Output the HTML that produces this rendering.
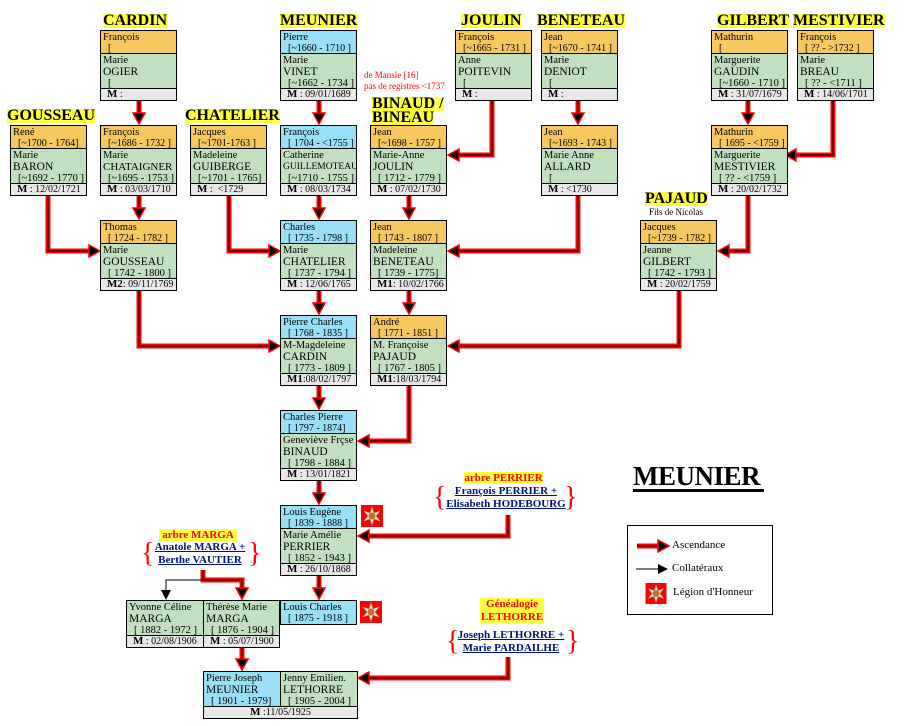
<!DOCTYPE html>
<html><head><meta charset="utf-8"><style>
body{margin:0;background:#fff;width:911px;height:726px;overflow:hidden;position:relative;font-family:"Liberation Serif",serif;color:#000}
.b{position:absolute;width:77px;box-sizing:border-box;border:1px solid #000;font-size:10.5px;line-height:11px}
.h{height:23px;background:#F8C860;border-bottom:1px solid #000;padding:1px 0 0 2px;box-sizing:border-box;white-space:nowrap;overflow:hidden}
.bl{background:#98E0F8}
.g{height:35px;background:#C0E0C0;border-bottom:1px solid #000;padding:1px 0 0 2px;box-sizing:border-box;white-space:nowrap;overflow:hidden}
.g span{font-size:11.5px;line-height:12px;display:block}
.g span.i{font-size:10.5px;line-height:11px}
.m{height:11px;background:#E8E8E8;font-size:10px;line-height:11px;padding-left:6px;white-space:nowrap;overflow:hidden}
.m b{font-size:11px}
.i{padding-left:5px;font-size:10px}
.t{position:absolute;font-weight:bold;font-size:16px;line-height:14px;background:#FFFF40;white-space:nowrap}
.r{position:absolute;color:#f00;font-size:9px;line-height:11px}
.lk{position:absolute;text-align:center;color:#001080;font-weight:bold;font-size:11px;line-height:13px;text-decoration:underline;white-space:nowrap}
.yl{position:absolute;background:#FFFF40;color:#f00;font-weight:bold;font-size:11px;line-height:12px;text-align:center}
.br{position:absolute;color:#f00;font-size:28px;line-height:28px}
</style></head><body>
<svg width="911" height="726" style="position:absolute;left:0;top:0">
<defs><symbol id="leg" viewBox="0 0 22 22"><rect width="22" height="22" fill="#f00"/><polygon points="11,2 13,8 19,6 15,11 19,16 13,14 11,20 9,14 3,16 7,11 3,6 9,8" fill="#e8e8d8" stroke="#8a8" stroke-width="0.6"/><circle cx="11" cy="11" r="3.5" fill="#c87020"/></symbol></defs>
<g fill="none" stroke="#f00" stroke-width="5" stroke-linejoin="miter">
<path d="M139 101V117M319 101V117M492 101V155H456M578 101V117M748 101V117M833 101V155H793M48 196V251H92M139 196V212M229 196V251H272M319 196V212M409 196V212M578 196V251H456M748 196V251H726M139 291V346H272M319 291V307M409 291V307M679 291V346H456M319 386V402M409 386V441H366M319 481V497M508 515V536H366M319 576V592M203 570V580H242V592M242 647V663M508 657V678H366M637 546H660"/>
</g>
<g fill="none" stroke="#000" stroke-width="1">
<path d="M139 101V117M319 101V117M492 101V155H456M578 101V117M748 101V117M833 101V155H793M48 196V251H92M139 196V212M229 196V251H272M319 196V212M409 196V212M578 196V251H456M748 196V251H726M139 291V346H272M319 291V307M409 291V307M679 291V346H456M319 386V402M409 386V441H366M319 481V497M508 515V536H366M319 576V592M203 570V580H242V592M242 647V663M508 657V678H366M637 546H660M203 580H166V592M636 569H660"/>
</g>
<g fill="#000" stroke="#f00" stroke-width="1.5">
<polygon points="133,113 145,113 139,124"/><polygon points="313,113 325,113 319,124"/><polygon points="572,113 584,113 578,124"/><polygon points="742,113 754,113 748,124"/>
<polygon points="459,149 459,161 448,155"/><polygon points="796,149 796,161 785,155"/>
<polygon points="89,245 89,257 100,251"/><polygon points="133,208 145,208 139,219"/><polygon points="269,245 269,257 280,251"/><polygon points="313,208 325,208 319,219"/><polygon points="403,208 415,208 409,219"/><polygon points="459,245 459,257 448,251"/><polygon points="729,245 729,257 718,251"/>
<polygon points="269,340 269,352 280,346"/><polygon points="313,303 325,303 319,314"/><polygon points="403,303 415,303 409,314"/><polygon points="459,340 459,352 448,346"/>
<polygon points="313,398 325,398 319,409"/><polygon points="369,435 369,447 358,441"/>
<polygon points="313,493 325,493 319,504"/><polygon points="369,530 369,542 358,536"/>
<polygon points="313,588 325,588 319,599"/><polygon points="236,588 248,588 242,599"/><polygon points="236,659 248,659 242,670"/><polygon points="369,672 369,684 358,678"/>
<polygon points="658,540 669,546 658,552"/>
</g>
<polygon points="161,590 171,590 166,600" fill="#000"/>
<polygon points="658,564 668,569 658,574" fill="#000"/>
<use href="#leg" x="361" y="505" width="22" height="22"/>
<use href="#leg" x="360" y="601" width="22" height="22"/>
<use href="#leg" x="645" y="583" width="22" height="21"/>
</svg>

<div class="t" style="left:103px;top:14px">CARDIN</div>
<div class="t" style="left:280px;top:14px">MEUNIER</div>
<div class="t" style="left:461px;top:14px">JOULIN</div>
<div class="t" style="left:537px;top:14px">BENETEAU</div>
<div class="t" style="left:717px;top:14px">GILBERT</div>
<div class="t" style="left:793px;top:14px">MESTIVIER</div>
<div class="t" style="left:7px;top:109px">GOUSSEAU</div>
<div class="t" style="left:185px;top:109px">CHATELIER</div>
<div class="t" style="left:372px;top:97px">BINAUD /</div>
<div class="t" style="left:372px;top:111px">BINEAU</div>
<div class="t" style="left:645px;top:192px">PAJAUD</div>
<div style="position:absolute;left:649px;top:207px;font-size:9px">Fils de Nicolas</div>
<div class="r" style="left:364px;top:70px">de Mansle [16]<br>pas de registres &lt;1737</div>

<!-- Row 1 -->
<div class="b" style="left:100px;top:30px"><div class="h">François<br><span class="i">[</span></div><div class="g">Marie<span>OGIER</span><span class="i">[</span></div><div class="m"><b>M</b> :</div></div>
<div class="b" style="left:280px;top:30px"><div class="h bl">Pierre<br><span class="i">[~1660 - 1710 ]</span></div><div class="g">Marie<span>VINET</span><span class="i">[~1662 - 1734 ]</span></div><div class="m"><b>M</b> : 09/01/1689</div></div>
<div class="b" style="left:455px;top:30px"><div class="h">François<br><span class="i">[~1665 - 1731 ]</span></div><div class="g">Anne<span>POITEVIN</span><span class="i">[</span></div><div class="m"><b>M</b> :</div></div>
<div class="b" style="left:541px;top:30px"><div class="h">Jean<br><span class="i">[~1670 - 1741 ]</span></div><div class="g">Marie<span>DENIOT</span><span class="i">[</span></div><div class="m"><b>M</b> :</div></div>
<div class="b" style="left:711px;top:30px"><div class="h">Mathurin<br><span class="i">[</span></div><div class="g">Marguerite<span>GAUDIN</span><span class="i">[~1660 - 1710 ]</span></div><div class="m"><b>M</b> : 31/07/1679</div></div>
<div class="b" style="left:797px;top:30px"><div class="h">François<br><span class="i">[ ?? - &gt;1732 ]</span></div><div class="g">Marie<span>BREAU</span><span class="i">[ ?? - &lt;1711 ]</span></div><div class="m"><b>M</b> : 14/06/1701</div></div>

<!-- Row 2 -->
<div class="b" style="left:10px;top:125px"><div class="h">René<br><span class="i">[~1700 - 1764]</span></div><div class="g">Marie<span>BARON</span><span class="i">[~1692 - 1770 ]</span></div><div class="m"><b>M</b> : 12/02/1721</div></div>
<div class="b" style="left:100px;top:125px"><div class="h">François<br><span class="i">[~1686 - 1732 ]</span></div><div class="g">Marie<span style="font-size:11px">CHATAIGNER</span><span class="i">[~1695 - 1753 ]</span></div><div class="m"><b>M</b> : 03/03/1710</div></div>
<div class="b" style="left:190px;top:125px"><div class="h">Jacques<br><span class="i">[~1701-1763 ]</span></div><div class="g">Madeleine<span>GUIBERGE</span><span class="i">[~1701 - 1765]</span></div><div class="m"><b>M</b> :&nbsp; &lt;1729</div></div>
<div class="b" style="left:280px;top:125px"><div class="h bl">François<br><span class="i">[ 1704 - &lt;1755 ]</span></div><div class="g">Catherine<span style="font-size:9.5px">GUILLEMOTEAU</span><span class="i">[~1710 - 1755 ]</span></div><div class="m"><b>M</b> : 08/03/1734</div></div>
<div class="b" style="left:370px;top:125px"><div class="h">Jean<br><span class="i">[~1698 - 1757 ]</span></div><div class="g">Marie-Anne<span>JOULIN</span><span class="i">[ 1712 - 1779 ]</span></div><div class="m"><b>M</b> : 07/02/1730</div></div>
<div class="b" style="left:541px;top:125px"><div class="h">Jean<br><span class="i">[~1693 - 1743 ]</span></div><div class="g">Marie Anne<span>ALLARD</span><span class="i">[</span></div><div class="m"><b>M</b> : &lt;1730</div></div>
<div class="b" style="left:711px;top:125px"><div class="h">Mathurin<br><span class="i">[ 1695 - &lt;1759 ]</span></div><div class="g">Marguerite<span>MESTIVIER</span><span class="i">[ ?? - &lt;1759 ]</span></div><div class="m"><b>M</b> : 20/02/1732</div></div>

<!-- Row 3 -->
<div class="b" style="left:100px;top:220px"><div class="h">Thomas<br><span class="i">[ 1724 - 1782 ]</span></div><div class="g">Marie<span>GOUSSEAU</span><span class="i">[ 1742 - 1800 ]</span></div><div class="m"><b>M2</b>: 09/11/1769</div></div>
<div class="b" style="left:280px;top:220px"><div class="h bl">Charles<br><span class="i">[ 1735 - 1798 ]</span></div><div class="g">Marie<span>CHATELIER</span><span class="i">[ 1737 - 1794 ]</span></div><div class="m"><b>M</b> : 12/06/1765</div></div>
<div class="b" style="left:370px;top:220px"><div class="h">Jean<br><span class="i">[ 1743 - 1807 ]</span></div><div class="g">Madeleine<span>BENETEAU</span><span class="i">[ 1739 - 1775]</span></div><div class="m"><b>M1</b>: 10/02/1766</div></div>
<div class="b" style="left:640px;top:220px"><div class="h">Jacques<br><span class="i">[~1739 - 1782 ]</span></div><div class="g">Jeanne<span>GILBERT</span><span class="i">[ 1742 - 1793 ]</span></div><div class="m"><b>M</b> : 20/02/1759</div></div>

<!-- Row 4 -->
<div class="b" style="left:280px;top:315px"><div class="h bl">Pierre Charles<br><span class="i">[ 1768 - 1835 ]</span></div><div class="g">M-Magdeleine<span>CARDIN</span><span class="i">[ 1773 - 1809 ]</span></div><div class="m"><b>M1</b>:08/02/1797</div></div>
<div class="b" style="left:370px;top:315px"><div class="h">André<br><span class="i">[ 1771 - 1851 ]</span></div><div class="g">M. Françoise<span>PAJAUD</span><span class="i">[ 1767 - 1805 ]</span></div><div class="m"><b>M1</b>:18/03/1794</div></div>

<!-- Row 5,6 -->
<div class="b" style="left:280px;top:410px"><div class="h bl">Charles Pierre<br><span class="i">[ 1797 - 1874]</span></div><div class="g">Geneviève Frçse<span>BINAUD</span><span class="i">[ 1798 - 1884 ]</span></div><div class="m"><b>M</b> : 13/01/1821</div></div>
<div class="b" style="left:280px;top:505px"><div class="h bl">Louis Eugène<br><span class="i">[ 1839 - 1888 ]</span></div><div class="g">Marie Amélie<span>PERRIER</span><span class="i">[ 1852 - 1943 ]</span></div><div class="m"><b>M</b> : 26/10/1868</div></div>

<!-- Row 7 -->
<div class="b" style="left:280px;top:600px;height:25px"><div class="h bl" style="border-bottom:0">Louis Charles<br><span class="i">[ 1875 - 1918 ]</span></div></div>
<div class="b" style="left:126px;top:600px;border-right:0;width:78px"><div class="g">Yvonne Céline<span>MARGA</span><span class="i">[ 1882 - 1972 ]</span></div><div class="m"><b>M</b> : 02/08/1906</div></div>
<div class="b" style="left:203px;top:600px"><div class="g">Thérèse Marie<span>MARGA</span><span class="i">[ 1876 - 1904 ]</span></div><div class="m"><b>M</b> : 05/07/1900</div></div>

<!-- Row 8 -->
<div class="b" style="left:203px;top:671px;width:155px">
<div style="display:flex"><div class="g" style="width:77px;background:#98E0F8;border-right:1px solid #000">Pierre Joseph<span>MEUNIER</span><span class="i">[ 1901 - 1979]</span></div><div class="g" style="width:76px">Jenny Emilien.<span>LETHORRE</span><span class="i">[ 1905 - 2004 ]</span></div></div>
<div class="m" style="text-align:center;padding:0"><b>M</b> :11/05/1925</div></div>

<!-- external trees -->
<div class="yl" style="left:464px;top:472px;width:79px">arbre PERRIER</div>
<div class="lk" style="left:445px;top:485px;width:122px">François PERRIER +<br>Elisabeth HODEBOURG</div>
<div class="br" style="left:433px;top:484px">{</div><div class="br" style="left:564px;top:484px">}</div>

<div class="yl" style="left:159px;top:529px;width:78px">arbre MARGA</div>
<div class="lk" style="left:150px;top:541px;width:100px">Anatole MARGA +<br>Berthe VAUTIER</div>
<div class="br" style="left:141px;top:540px">{</div><div class="br" style="left:248px;top:540px">}</div>

<div class="yl" style="left:480px;top:598px;width:64px;line-height:12.5px">Généalogie<br>LETHORRE</div>
<div class="lk" style="left:455px;top:629px;width:112px">Joseph LETHORRE +<br>Marie PARDAILHE</div>
<div class="br" style="left:446px;top:628px">{</div><div class="br" style="left:566px;top:628px">}</div>

<div style="position:absolute;left:633px;top:462px;font-size:27px;font-weight:bold;line-height:28px;letter-spacing:-0.5px">MEUNIER</div>
<div style="position:absolute;left:633px;top:489px;width:131px;height:3px;background:#000"></div>

<div style="position:absolute;left:627px;top:525px;width:146px;height:90px;box-sizing:border-box;border:1px solid #000"></div>
<div style="position:absolute;left:672px;top:539px;font-size:11px">Ascendance</div>
<div style="position:absolute;left:672px;top:562px;font-size:11px">Collatéraux</div>
<div style="position:absolute;left:673px;top:586px;font-size:11px">Légion d'Honneur</div>
</body></html>
